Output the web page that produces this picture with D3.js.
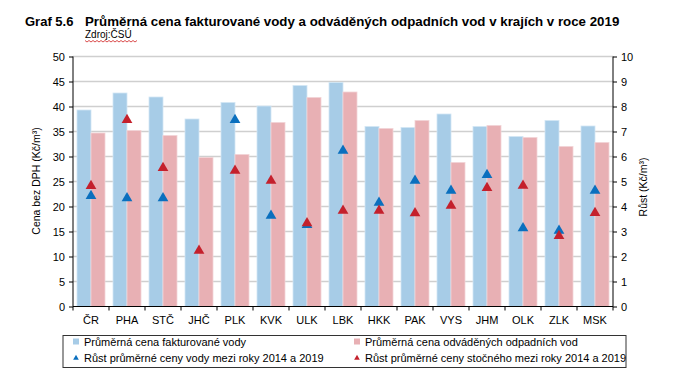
<!DOCTYPE html>
<html>
<head>
<meta charset="utf-8">
<script src="https://cdn.jsdelivr.net/npm/d3@7"></script>
<style>
  body { margin: 0; background: #fff; }
  text { font-family: Arial, "Liberation Sans", sans-serif; }
</style>
</head>
<body>
<svg class="chart" width="680" height="388"></svg>
<script>
var regions = ["ČR", "PHA", "STČ", "JHČ", "PLK", "KVK", "ULK", "LBK", "HKK", "PAK", "VYS", "JHM", "OLK", "ZLK", "MSK"];
var waterPrice = [39.3, 42.7, 41.9, 37.5, 40.8, 40.1, 44.2, 44.8, 36.0, 35.8, 38.5, 36.0, 34.0, 37.2, 36.1];
var sewagePrice = [34.7, 35.2, 34.2, 29.8, 30.4, 36.8, 41.8, 42.9, 35.6, 37.2, 28.8, 36.2, 33.8, 32.0, 32.8];
var waterGrowth = [4.46, 4.37, 4.37, null, 7.5, 3.67, 3.3, 6.27, 4.19, 5.07, 4.67, 5.3, 3.17, 3.07, 4.67];
var sewageGrowth = [4.86, 7.5, 5.58, 2.27, 5.47, 5.07, 3.37, 3.87, 3.87, 3.77, 4.07, 4.78, 4.87, 2.86, 3.78];
var leftTicks = [0, 5, 10, 15, 20, 25, 30, 35, 40, 45, 50];
var rightTicks = [0, 1, 2, 3, 4, 5, 6, 7, 8, 9, 10];
var legendLabels = ["Průměrná cena fakturované vody", "Průměrná cena odváděných odpadních vod",
                    "Růst průměrné ceny vody mezi roky 2014 a 2019", "Růst průměrné ceny stočného mezi roky 2014 a 2019"];

var blue = "#a7cce7", pink = "#e8b0b4", triBlue = "#0a6fbe", triRed = "#c4202c";

var svg = d3.select(".chart");
var margin = { left: 73, right: 67, top: 56.5, bottom: 81.5 },
    width = 680 - margin.left - margin.right,
    height = 388 - margin.top - margin.bottom;

var x = d3.scaleBand().domain(regions).range([0, width]);
var yL = d3.scaleLinear().domain([0, 50]).range([height, 0]);
var yR = d3.scaleLinear().domain([0, 10]).range([height, 0]);

// title
svg.append("text").attr("x", 25).attr("y", 26).attr("font-size", 13).attr("font-weight", "bold")
    .text("Graf 5.6");
svg.append("text").attr("x", 85).attr("y", 26).attr("font-size", 13.3).attr("font-weight", "bold")
    .text("Průměrná cena fakturované vody a odváděných odpadních vod v krajích v roce 2019");
svg.append("text").attr("x", 85).attr("y", 38).attr("font-size", 10).text("Zdroj:ČSÚ");
// spell-check squiggle under the source line
var sq = "M85,40.5";
for (var i = 1; i <= 26; i++) sq += "L" + (85 + i * 2) + "," + (i % 2 ? 42 : 40.5);
svg.append("path").attr("d", sq).attr("fill", "none").attr("stroke", "#d02020").attr("stroke-width", 0.8);

var g = svg.append("g").attr("transform", "translate(" + margin.left + "," + margin.top + ")");

// grid
g.selectAll(".grid").data(leftTicks.slice(1)).enter().append("line")
    .attr("x1", 0).attr("x2", width)
    .attr("y1", function (d) { return yL(d); }).attr("y2", function (d) { return yL(d); })
    .attr("stroke", "#cfcfcf").attr("stroke-width", 1.6);

// bars
var barW = 14;
g.selectAll(".bw").data(waterPrice).enter().append("rect")
    .attr("x", function (d, i) { return x(regions[i]) + x.bandwidth() / 2 - barW; })
    .attr("y", function (d) { return yL(d); })
    .attr("width", barW)
    .attr("height", function (d) { return height - yL(d); })
    .attr("fill", blue).attr("stroke", "#d2e6f4").attr("stroke-width", 0.8);

g.selectAll(".bs").data(sewagePrice).enter().append("rect")
    .attr("x", function (d, i) { return x(regions[i]) + x.bandwidth() / 2; })
    .attr("y", function (d) { return yL(d); })
    .attr("width", barW)
    .attr("height", function (d) { return height - yL(d); })
    .attr("fill", pink).attr("stroke", "#f2d4d6").attr("stroke-width", 0.8);

// triangles (growth, right axis)
var tri = d3.symbol().type(d3.symbolTriangle).size(50);
function addTriangles(vals, color) {
    vals.forEach(function (v, i) {
        if (v == null) return;
        g.append("path").attr("d", tri)
            .attr("transform", "translate(" + (x(regions[i]) + x.bandwidth() / 2) + "," + (yR(v) + 1) + ")")
            .attr("fill", color);
    });
}
addTriangles(waterGrowth, triBlue);
addTriangles(sewageGrowth, triRed);

// axes
var axL = g.append("g").call(d3.axisLeft(yL).tickValues(leftTicks).tickSize(4).tickPadding(4));
var axR = g.append("g").attr("transform", "translate(" + width + ",0)")
    .call(d3.axisRight(yR).tickValues(rightTicks).tickSize(4).tickPadding(4));
var axX = g.append("g").attr("transform", "translate(0," + height + ")")
    .call(d3.axisBottom(x).tickSize(0).tickPadding(10));
axX.select(".domain").attr("d", "M0,0H" + width);
axX.selectAll(".bound").data(d3.range(regions.length + 1)).enter().append("line")
    .attr("x1", function (d) { return d * x.step(); }).attr("x2", function (d) { return d * x.step(); })
    .attr("y1", 0).attr("y2", 4).attr("stroke", "#000");

[axL, axR, axX].forEach(function (a) {
    a.selectAll("text").attr("font-size", 11).attr("fill", "#000")
        .attr("font-family", "Arial, 'Liberation Sans', sans-serif");
    a.select(".domain").attr("stroke", "#000");
    a.selectAll(".tick line").attr("stroke", "#000");
});
axL.select(".domain").attr("d", "M0,0V" + height);
axR.select(".domain").attr("d", "M0,0V" + height);

// axis titles
svg.append("text").attr("transform", "translate(40,181) rotate(-90)").attr("text-anchor", "middle")
    .attr("font-size", 10.5).text("Cena bez DPH (Kč/m³)");
svg.append("text").attr("transform", "translate(647,187) rotate(-90)").attr("text-anchor", "middle")
    .attr("font-size", 10.5).text("Růst (Kč/m³)");

// legend
var lg = svg.append("g");
lg.append("rect").attr("x", 63).attr("y", 335.5).attr("width", 563).attr("height", 32)
    .attr("fill", "#fff").attr("stroke", "#333").attr("stroke-width", 1);
var legendPos = [[76, 341.5], [357, 341.5], [76, 357.5], [357, 357.5]];
legendLabels.forEach(function (t, i) {
    var p = legendPos[i];
    if (i < 2) {
        lg.append("rect").attr("x", p[0] - 3).attr("y", p[1] - 3).attr("width", 6).attr("height", 6)
            .attr("fill", i === 0 ? blue : pink);
    } else {
        lg.append("path").attr("d", d3.symbol().type(d3.symbolTriangle).size(14))
            .attr("transform", "translate(" + p[0] + "," + (p[1] + 0.5) + ")")
            .attr("fill", i === 2 ? triBlue : triRed);
    }
    lg.append("text").attr("x", p[0] + 8).attr("y", p[1] + 4).attr("font-size", 11).text(t);
});
</script>
</body>
</html>
